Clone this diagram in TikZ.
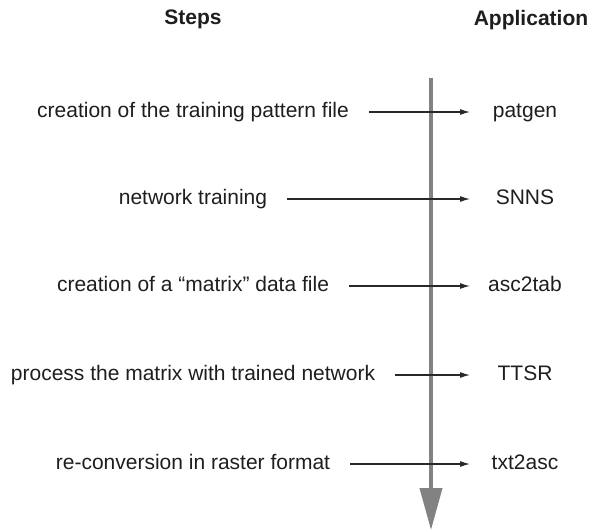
\documentclass[tikz,border=0pt]{standalone}
\usepackage{fontspec}
\setmainfont{Liberation Sans}
\usetikzlibrary{arrows.meta,calc}
\definecolor{txt}{RGB}{30,30,30}
\definecolor{axis}{RGB}{130,130,130}
\definecolor{conncol}{RGB}{40,40,40}
\begin{document}
\begin{tikzpicture}[x=1pt,y=-1pt,
  header/.style={font=\fontsize{21}{24}\selectfont\bfseries, text=txt, inner sep=0pt, anchor=base},
  steptext/.style={font=\fontsize{21}{24}\selectfont, text=txt, inner sep=0pt, anchor=base},
  apptext/.style={font=\fontsize{21}{24}\selectfont, text=txt, inner sep=0pt, anchor=base},
  conn/.style={draw=conncol, line width=1.1pt, -{Latex[length=10pt,width=6pt]}},
  timeline/.style={draw=axis, line width=4pt, -{Triangle[length=42pt,width=22pt]}}
]
\useasboundingbox (0,0) rectangle (590,531);
% headers
\node[header] (hsteps) at (193,24) {Steps};
\node[header] (happ) at (531,25) {Application};
% timeline
\coordinate (vtop) at (431,78);
\coordinate (vbot) at (431,530);
\draw[timeline] (vtop) -- (vbot);
% rows
\foreach \i/\y/\st/\ap in {
  1/112/{creation of the training pattern file}/patgen,
  2/199/{network training}/SNNS,
  3/286/{creation of a “matrix” data file}/asc2tab,
  4/375/{process the matrix with trained network}/TTSR,
  5/464/{re-conversion in raster format}/txt2asc}{
  \node[steptext] (s\i) at (193,\y+5.5) {\st};
  \node[apptext] (a\i) at (525,\y+5.5) {\ap};
  \coordinate (e\i) at (470,\y);
  \draw[conn] ($(s\i.base east |- e\i)+(20,0)$) -- (e\i);
}
\end{tikzpicture}
\end{document}
